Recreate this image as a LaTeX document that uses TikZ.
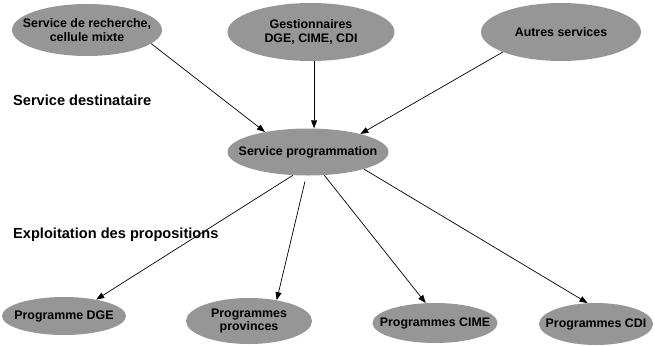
\documentclass[tikz,border=0pt]{standalone}
\usepackage{fontspec}
\setmainfont{Liberation Sans}
\usepackage{tikz}
\usetikzlibrary{shapes.geometric,arrows.meta}
\definecolor{bulle}{RGB}{150,150,150}

\begin{document}
\begin{tikzpicture}[x=10pt,y=-10pt,
    service/.style={ellipse,fill=bulle,inner xsep=-15pt,inner ysep=0pt,align=center,
      font=\fontsize{12.4}{13.5}\selectfont\bfseries},
    titre/.style={anchor=west,inner sep=0pt,font=\fontsize{14.6}{17}\selectfont\bfseries},
    fleche/.style={-{Triangle[length=8pt,width=6pt]},line width=0.7pt}]
    \useasboundingbox (0,0) rectangle (65.5,34.5);
    % sources
    \node[service,minimum width=150pt,minimum height=52pt](rech) at (8.7,3.0){Service de recherche,\\cellule mixte};
    \node[service,minimum width=167pt,minimum height=58pt](gest) at (31.1,3.2){Gestionnaires\\DGE, CIME, CDI};
    \node[service,minimum width=160pt,minimum height=58pt](autres) at (56.1,3.2){Autres services};
    \node[titre](dest) at (1.3,10.0){Service destinataire};
    % centre
    \node[service,minimum width=161pt,minimum height=47pt](prog) at (30.8,15.2){Service programmation};
    \node[titre](expl) at (1.3,23.5){Exploitation des propositions};
    % programmes
    \node[service,minimum width=124pt,minimum height=38pt](dge) at (6.4,31.6){Programme DGE};
    \node[service,minimum width=126pt,minimum height=46pt](prov) at (24.9,32.1){Programmes\\provinces};
    \node[service,minimum width=125pt,minimum height=40pt](cime) at (43.5,32.3){Programmes CIME};
    \node[service,minimum width=114pt,minimum height=42pt](cdi) at (59.6,32.4){Programmes CDI};
    \draw[fleche] (rech.-12)--(prog.155);
    \draw[fleche] (gest.-84)--(gest.-84 |- prog.north);
    \draw[fleche] (autres.-161)--(prog.19);
    \draw[fleche] (prog.-123)--(dge.27);
    \draw[fleche,shorten <=6pt] (prog.-94)--(prov.37);
    \draw[fleche] (prog.-55)--(cime.115);
    \draw[fleche] (prog.-17)--(cdi.112);
\end{tikzpicture}
\end{document}
